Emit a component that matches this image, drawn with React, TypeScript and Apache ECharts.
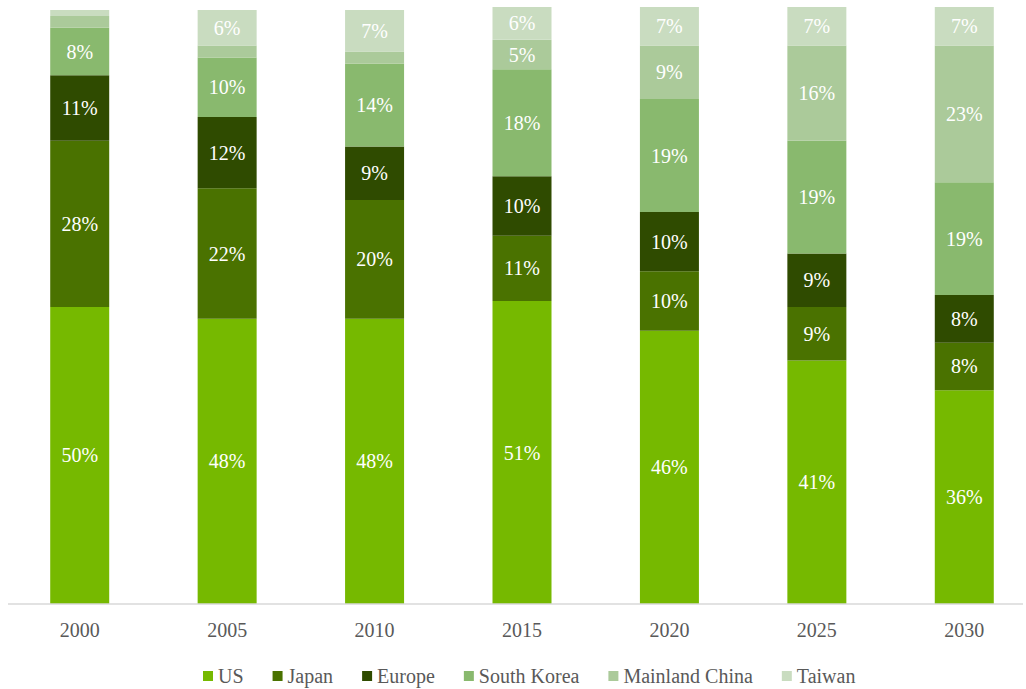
import React, { useEffect, useRef } from "react";
import * as echarts from "echarts";

const years = ["2000", "2005", "2010", "2015", "2020", "2025", "2030"];
const us = [50, 48, 48, 51, 46, 41, 36];
const japan = [28, 22, 20, 11, 10, 9, 8];
const europe = [11, 12, 9, 10, 10, 9, 8];
const southKorea = [8, 10, 14, 18, 19, 19, 19];
const mainlandChina = [2, 2, 2, 5, 9, 16, 23];
const taiwan = [1, 6, 7, 6, 7, 7, 7];

const seriesDefs = [
  { name: "US", data: us, color: "#76b900" },
  { name: "Japan", data: japan, color: "#4a7200" },
  { name: "Europe", data: europe, color: "#2f4b00" },
  { name: "South Korea", data: southKorea, color: "#89b96e" },
  { name: "Mainland China", data: mainlandChina, color: "#abca9a" },
  { name: "Taiwan", data: taiwan, color: "#c9dcc0" },
];

const FONT = "'Liberation Serif', 'Times New Roman', serif";

export default function App() {
  const ref = useRef<HTMLDivElement>(null);
  useEffect(() => {
    if (!ref.current) return;
    const chart = echarts.init(ref.current, null, { renderer: "svg" });
    chart.setOption({
      animation: false,
      backgroundColor: "#ffffff",
      textStyle: { fontFamily: FONT },
      grid: { left: 6, width: 1032, top: 7, bottom: 85, containLabel: false },
      graphic: [
        {
          type: "line",
          shape: { x1: 8, y1: 604, x2: 1023, y2: 604 },
          style: { stroke: "#d9d9d9", lineWidth: 1.5 },
          z: 10,
        },
      ],
      legend: {
        bottom: -2,
        left: 198,
        itemWidth: 10,
        itemHeight: 10,
        itemGap: 29,
        icon: "rect",
        textStyle: { fontFamily: FONT, fontSize: 20, color: "#595959" },
        data: seriesDefs.map((s) => s.name),
      },
      xAxis: {
        type: "category",
        data: years,
        axisLine: { show: false },
        axisTick: { show: false },
        axisLabel: { fontFamily: FONT, fontSize: 20, color: "#595959", margin: 16 },
      },
      yAxis: {
        type: "value",
        min: 0,
        max: 100.5,
        show: false,
        splitLine: { show: false },
      },
      series: seriesDefs.map((s) => ({
        name: s.name,
        type: "bar",
        stack: "total",
        barWidth: 59,
        data: s.data,
        itemStyle: { color: s.color },
        label: {
          show: true,
          position: "inside",
          fontFamily: FONT,
          fontSize: 20,
          color: "#ffffff",
          formatter: (p: any) => (p.value >= 4 ? `${p.value}%` : ""),
        },
      })),
    });
    return () => chart.dispose();
  }, []);
  return (
    <div style={{ position: "fixed", left: 0, top: 0, width: 1026, height: 689, overflow: "hidden", background: "#fff" }}>
      <div ref={ref} style={{ width: 1040, height: 689 }} />
    </div>
  );
}
